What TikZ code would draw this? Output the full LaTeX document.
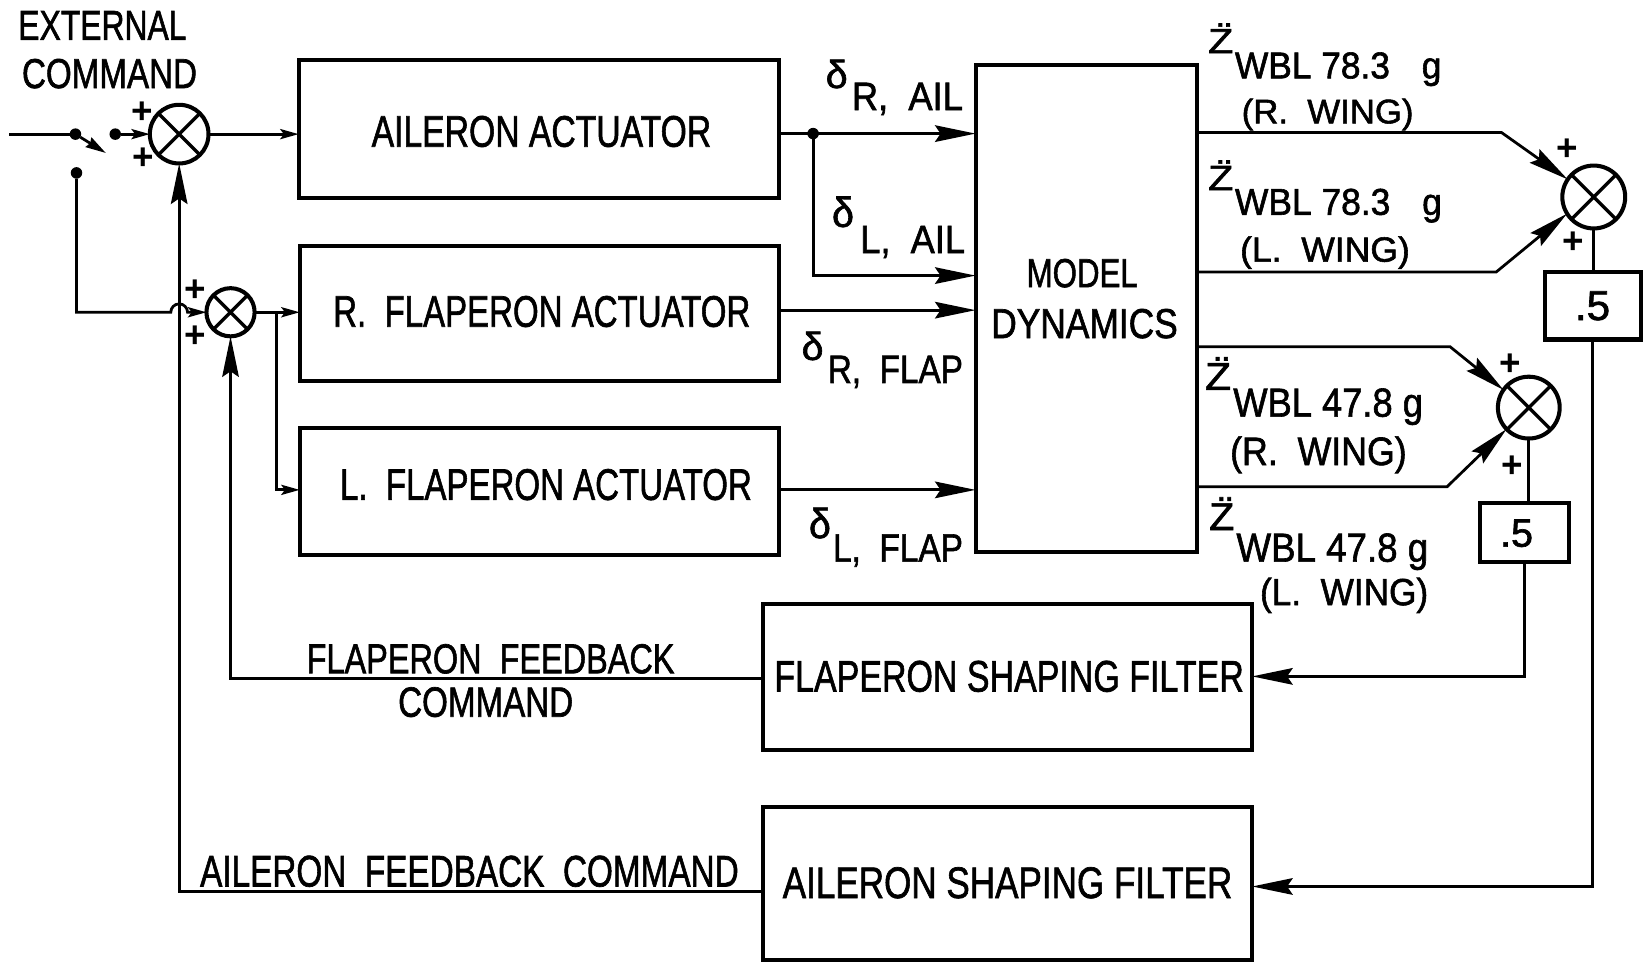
\documentclass[tikz,border=0pt]{standalone}
\usepackage{fontspec}
\setmainfont{Liberation Sans}
\newfontfamily\lab{Liberation Sans}[FakeBold=1.6]
\usepackage{graphicx}
\usetikzlibrary{arrows.meta}
\newlength\px
\setlength\px{0.02cm}
\newcommand\T[3]{{\lab\fontsize{#1pt}{#1pt}\selectfont\resizebox{#2\px}{\height}{#3}}}
\newcommand\D[2]{{\lab\fontsize{20pt}{20pt}\selectfont\resizebox{#1\px}{#2\px}{δ}}}
\newcommand\Zdd[2]{{\lab\fontsize{#1pt}{#1pt}\selectfont\resizebox{#2\px}{\height}{Z̈}}}
\begin{document}
\begin{tikzpicture}[x=0.02cm,y=-0.02cm,
  box/.style={draw,line width=2.2pt,inner sep=0pt,outer sep=0pt},
  conn/.style={line width=1.5pt},
  bigtip/.style={-{Stealth[length=22pt,width=9pt,inset=3pt]}},
  smalltip/.style={-{Stealth[length=10pt,width=5.5pt,inset=2pt]}},
  sumnode/.style={circle,draw,line width=2.2pt,inner sep=0pt,outer sep=0pt,minimum size=#1*\px,
     path picture={\draw[line width=1.8pt] (path picture bounding box.north west)--(path picture bounding box.south east) (path picture bounding box.north east)--(path picture bounding box.south west);}},
  dotnode/.style={circle,fill,inner sep=0pt,outer sep=0pt,minimum size=11*\px},
  txt/.style={inner sep=0pt,outer sep=0pt,anchor=base west},
  plus/.style={inner sep=0pt,outer sep=0pt,font=\fontsize{20pt}{20pt}\selectfont\bfseries},
]
\useasboundingbox (0,0) rectangle (1568,920);

% ---------- boxes ----------
\node[box,minimum width=458*\px,minimum height=132*\px] (ail) at (514,123) {};
\node[box,minimum width=457*\px,minimum height=129*\px] (rfl) at (514.5,299.5) {};
\node[box,minimum width=457*\px,minimum height=121*\px] (lfl) at (514.5,469) {};
\node[box,minimum width=211*\px,minimum height=465*\px] (mod) at (1036.5,294.5) {};
\node[box,minimum width=467*\px,minimum height=140*\px] (ffl) at (961.5,646) {};
\node[box,minimum width=467*\px,minimum height=146*\px] (afl) at (961.5,843) {};
\node[box,minimum width=92*\px,minimum height=64*\px] (g1) at (1520,292) {};
\node[box,minimum width=85.5*\px,minimum height=56*\px] (g2) at (1455,508) {};

% ---------- summing junctions ----------
\node[sumnode=56] (s1) at (171,128) {};
\node[sumnode=46] (s2) at (220,298) {};
\node[sumnode=60] (s3) at (1521,188) {};
\node[sumnode=59] (s4) at (1459,389) {};

% ---------- box texts ----------
\node[txt] (ailT) at (354.7,140) {\T{24}{324}{AILERON ACTUATOR}};
\node[txt] (rflT) at (318,311.8) {\T{24}{398}{R.\ \ FLAPERON ACTUATOR}};
\node[txt] (lflT) at (324.5,477) {\T{24}{393}{L.\ \ FLAPERON ACTUATOR}};
\node[txt] (modT1) at (979.8,274) {\T{22}{106}{MODEL}};
\node[txt] (modT2) at (946,322.6) {\T{22.7}{178}{DYNAMICS}};
\node[txt] (fflT) at (739,660) {\T{24}{448}{FLAPERON SHAPING FILTER}};
\node[txt] (aflT) at (747,857) {\T{24}{429}{AILERON SHAPING FILTER}};
\node[txt] (g1T) at (1503,305.4) {\T{22.7}{33.6}{.5}};
\node[txt] (g2T) at (1431.6,521.7) {\T{21.5}{31.4}{.5}};

% ---------- free texts ----------
\node[txt] (ext1) at (17.5,38) {\T{22.7}{160.5}{EXTERNAL}};
\node[txt] (ext2) at (21,84) {\T{22.7}{167}{COMMAND}};
\node[txt] (ffb1) at (292.7,642.5) {\T{22.7}{351}{FLAPERON\ \ FEEDBACK}};
\node[txt] (ffb2) at (380,684) {\T{23}{167}{COMMAND}};
\node[txt] (afb) at (191,846) {\T{24}{514}{AILERON\ \ FEEDBACK\ \ COMMAND}};

% delta labels
\node[txt] (dRA) at (788,84) {\D{21}{27}\hspace{4\px}\raisebox{-21\px}{\T{21.5}{106}{R, \ AIL}}};
\node[txt] (dLA) at (794,216.5) {\D{21}{29}\hspace{6\px}\raisebox{-25\px}{\T{21.5}{100}{L, \ AIL}}};
\node[txt] (dRF) at (765,343.5) {\D{21}{27}\hspace{4\px}\raisebox{-22\px}{\T{21.5}{129}{R, \ FLAP}}};
\node[txt] (dLF) at (772,513.5) {\D{21}{29}\hspace{2\px}\raisebox{-22.5\px}{\T{21.5}{124}{L, \ FLAP}}};

% Z labels
\node[txt] (z1) at (1153,50.7) {\Zdd{19}{24}\hspace{1.6\px}\raisebox{-24.1\px}{\T{20.3}{197}{WBL 78.3\hspace{0.9em}g}}};
\node[txt] (z1w) at (1185,117.7) {\T{18.5}{164}{(R.\ \ WING)}};
\node[txt] (z2) at (1153,181.4) {\Zdd{19}{24}\hspace{1.6\px}\raisebox{-23.6\px}{\T{20.3}{197.5}{WBL 78.3\hspace{0.9em}g}}};
\node[txt] (z2w) at (1183.5,249.7) {\T{19}{162}{(L.\ \ WING)}};
\node[txt] (z3) at (1150,372) {\Zdd{21}{25}\hspace{2\px}\raisebox{-25.6\px}{\T{22}{181}{WBL 47.8 g}}};
\node[txt] (z3w) at (1174,443.8) {\T{21.5}{168.5}{(R.\ \ WING)}};
\node[txt] (z4) at (1154,505.8) {\Zdd{21}{24}\hspace{2\px}\raisebox{-30.2\px}{\T{22}{183}{WBL 47.8 g}}};
\node[txt] (z4w) at (1202.5,577.5) {\T{20.5}{160.5}{(L.\ \ WING)}};

% plus signs
\node[plus] (p1a) at (135.5,108) {+};
\node[plus] (p1b) at (136.5,151) {+};
\node[plus] (p2a) at (186,277) {+};
\node[plus] (p2b) at (186,321) {+};
\node[plus] (p3a) at (1496,143) {+};
\node[plus] (p3b) at (1501,232) {+};
\node[plus] (p4a) at (1441,348) {+};
\node[plus] (p4b) at (1443,445) {+};

% ---------- input switch ----------
\coordinate (extin) at (9,128);
\node[dotnode] (d1) at (72,128) {};
\node[dotnode] (d2) at (110,128) {};
\node[dotnode] (d3) at (73,165) {};
\coordinate (swtip) at (101,146);
\draw[conn] (extin) -- (d1);
\draw[conn,-{Stealth[length=11pt,width=6pt,inset=1pt]}] (d1) -- (swtip);
\draw[conn,smalltip] (d2) -- (s1);
\draw[conn,smalltip] (d3) |- (163,298) arc[start angle=180,end angle=360,radius=8] -- (s2);

% ---------- forward path ----------
\draw[conn,smalltip] (s1.east) -- (s1.east -| ail.west);
\draw[conn,smalltip] (s2.east) -- (s2.east -| rfl.west);
\coordinate (b2) at (264,298);
\draw[conn,smalltip] (b2) |- (lfl.west |- 0,467.5);

\node[dotnode] (d4) at (776,127.5) {};
\draw[conn,bigtip] (ail.east |- d4) -- (mod.west |- d4);
\draw[conn,bigtip] (d4) |- (mod.west |- 0,263);
\draw[conn,bigtip] (rfl.east |- 0,296) -- (mod.west |- 0,296);
\draw[conn,bigtip] (lfl.east |- 0,467.5) -- (mod.west |- 0,467.5);

% ---------- model outputs ----------
\draw[conn,bigtip] (mod.east |- 0,126.5) -- (1433,126.5) -- (s3.146);
\draw[conn,bigtip] (mod.east |- 0,259.5) -- (1428,259.5) -- (s3.212);
\draw[conn,bigtip] (mod.east |- 0,331) -- (1384,331) -- (s4.145);
\draw[conn,bigtip] (mod.east |- 0,464.5) -- (1381,464.5) -- (s4.224);

% ---------- gains and feedback ----------
\draw[conn] (s3.south) -- (s3.south |- g1.north);
\draw[conn] (s4.south) -- (s4.south |- g2.north);
\draw[conn,bigtip] (g1.south) |- (afl.east |- 0,846);
\draw[conn,bigtip] (g2.south) |- (ffl.east |- 0,645.5);
\draw[conn,bigtip] (ffl.west |- 0,647.5) -| (s2.south);
\draw[conn,bigtip] (afl.west |- 0,851) -| (s1.south);
\end{tikzpicture}
\end{document}
